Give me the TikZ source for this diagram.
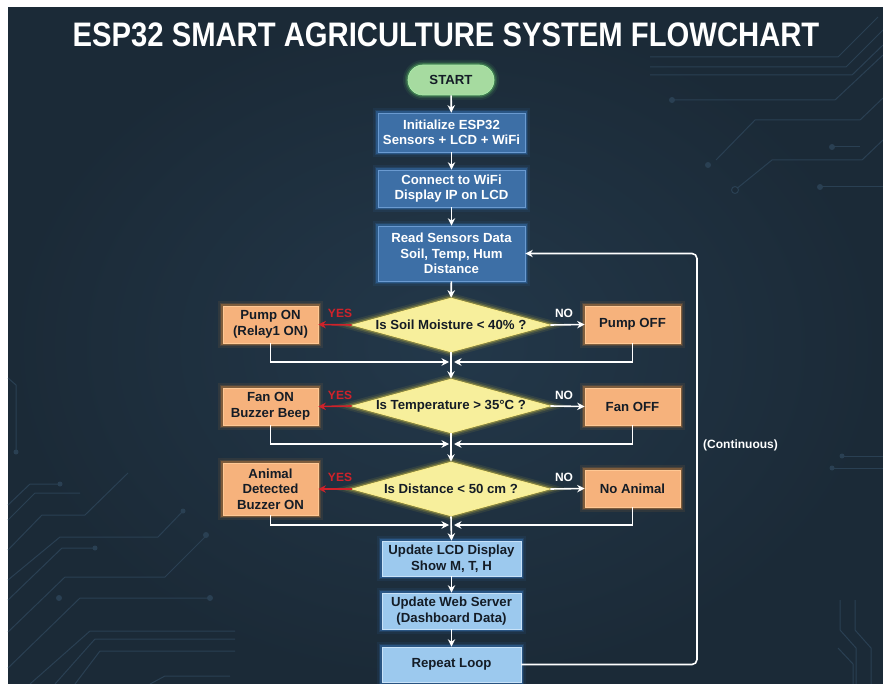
\documentclass[tikz,border=0pt]{standalone}
\usepackage{fontspec}
\setmainfont{Liberation Sans}
\usetikzlibrary{shapes.geometric,arrows.meta,calc}

\definecolor{bg}{HTML}{1B2A37}
\definecolor{bglight}{HTML}{23384A}
\definecolor{decoline}{HTML}{2A4053}
\definecolor{boxblue}{HTML}{3D6FA6}
\definecolor{boxblueedge}{HTML}{6A9AD0}
\definecolor{glowblue}{HTML}{3F8FE8}
\definecolor{lightblue}{HTML}{9CC9EE}
\definecolor{lightblueedge}{HTML}{C8E2F8}
\definecolor{orangebox}{HTML}{F6B27C}
\definecolor{orangeedge}{HTML}{FFC894}
\definecolor{glowor}{HTML}{FF9A3A}
\definecolor{yellowbox}{HTML}{F7EF9C}
\definecolor{glowyel}{HTML}{FFE640}
\definecolor{startgreen}{HTML}{A6DBA0}
\definecolor{glowgreen}{HTML}{6EE06E}
\definecolor{darktext}{HTML}{141C26}
\definecolor{yesred}{HTML}{D0222A}

\newcommand{\boxfont}{\fontsize{13.2}{15.5}\selectfont\bfseries}

\tikzset{
  glow/.style={
    preaction={draw=#1,line width=10pt,opacity=0.08},
    preaction={draw=#1,line width=6.5pt,opacity=0.14},
    preaction={draw=#1,line width=3.5pt,opacity=0.28}},
  base/.style={align=center, font=\boxfont, inner sep=0pt},
  bluebox/.style={base, rectangle, fill=boxblue, draw=boxblueedge, line width=0.7pt,
    text=white, glow=glowblue, minimum width=147pt},
  lbluebox/.style={base, rectangle, fill=lightblue, draw=lightblueedge, line width=0.7pt,
    text=darktext, glow=glowblue, minimum width=139pt},
  orbox/.style={base, rectangle, fill=orangebox, draw=orangeedge, line width=0.7pt,
    text=darktext, glow=glowor, minimum width=95pt},
  decision/.style={base, diamond, aspect=3.67, fill=yellowbox, draw=glowyel!60!white,
    line width=0.7pt, text=darktext, glow=glowyel, minimum width=198pt, minimum height=54pt},
  startbox/.style={base, rectangle, rounded corners=15pt, fill=startgreen, draw=glowgreen!60!white,
    line width=0.7pt, text=darktext, glow=glowgreen, minimum width=86pt, minimum height=30pt},
  flow/.style={draw=white, line width=1.6pt, -{Stealth[length=7.5pt,width=7.5pt]}},
  yesflow/.style={flow, draw=yesred},
  lbl/.style={font=\fontsize{12}{14}\selectfont\bfseries, inner sep=0pt},
  deco/.style={draw=decoline, line width=1pt},
  decodot/.style={fill=decoline},
}

\begin{document}
\begin{tikzpicture}[x=1pt,y=-1pt]
\useasboundingbox (0,0) rectangle (883,684);
\fill[white] (0,0) rectangle (883,684);
\shade[inner color=bglight, outer color=bg] (8,8) rectangle (883,684);

% decorative circuit traces
\draw[deco] (8,378) -- (16,385) -- (16,452);
\fill[decodot] (16,452) circle (2.5pt);
\draw[deco] (8,505) -- (30,484) -- (60,484);
\fill[decodot] (60,484) circle (2.5pt);
\draw[deco] (8,520) -- (35,493) -- (80,493);
\draw[deco] (8,550) -- (42,515) -- (85,515) -- (128,473);
\draw[deco] (8,580) -- (60,537) -- (158,537) -- (183,511);
\fill[decodot] (183,511) circle (2.5pt);
\draw[deco] (8,600) -- (62,548) -- (95,548);
\fill[decodot] (95,548) circle (2.5pt);
\draw[deco] (8,632) -- (65,577) -- (165,577) -- (205,537);
\fill[decodot] (206,535) circle (3pt);
\fill[decodot] (59,598) circle (3pt);
\draw[deco] (8,668) -- (80,598) -- (210,598);
\fill[decodot] (210,598) circle (3pt);
\draw[deco] (30,684) -- (90,631) -- (235,631);
\draw[deco] (55,684) -- (95,639) -- (235,639);
\draw[deco] (75,684) -- (100,651) -- (235,651);
\draw[deco] (150,684) -- (165,676) -- (230,676);
\draw[deco] (650,57) -- (838,57) -- (878,17);
\draw[deco] (650,67) -- (846,67) -- (883,30);
\draw[deco] (650,75) -- (852,75) -- (883,45);
\draw[deco] (672,100) -- (835,100) -- (883,55);
\fill[decodot] (672,100) circle (3pt);
\draw[deco] (716,160) -- (755,120) -- (860,120) -- (883,98);
\fill[decodot] (708,165) circle (3pt);
\draw[deco] (735,190) -- (772,160) -- (862,160) -- (883,140);
\draw[deco,fill=bg] (735,190) circle (3.5pt);
\draw[deco] (832,147) -- (860,147);
\fill[decodot] (832,147) circle (3pt);
\draw[deco] (820,187) -- (883,187);
\fill[decodot] (820,187) circle (3pt);
\draw[deco] (842,456) -- (883,456);
\fill[decodot] (842,456) circle (2.5pt);
\draw[deco] (832,468) -- (883,468);
\fill[decodot] (832,468) circle (2.5pt);
\draw[deco] (840,600) -- (840,630) -- (856,648) -- (856,684);
\draw[deco] (855,600) -- (855,630) -- (871,648) -- (871,684);
\draw[deco] (838,648) -- (853,664) -- (853,684);

% title
\node[text=white, font=\fontsize{34}{36}\selectfont\bfseries, inner sep=0pt] (title) at (446,35)
  {\scalebox{0.86}[1]{ESP32 SMART AGRICULTURE SYSTEM FLOWCHART}};

% nodes
\node[startbox] (start) at (451,80) {START};
\node[bluebox, minimum height=39pt] (init) at (451.5,132.5) {Initialize ESP32\\Sensors + LCD + WiFi};
\node[bluebox, minimum height=37pt] (conn) at (451.5,188.5) {Connect to WiFi\\Display IP on LCD};
\node[bluebox, minimum height=55pt] (read) at (451.5,253.5) {Read Sensors Data\\Soil, Temp, Hum\\Distance};

\node[decision] (d1) at (451,325) {Is Soil Moisture < 40\% ?};
\node[orbox, minimum height=37pt] (pumpon) at (270.5,324.5) {Pump ON\\(Relay1 ON)};
\node[orbox, minimum height=37pt] (pumpoff) at (632.5,324.5) {Pump OFF};

\node[decision] (d2) at (451,406) {Is Temperature > 35°C ?};
\node[orbox, minimum height=37pt] (fanon) at (270.5,406.5) {Fan ON\\Buzzer Beep};
\node[orbox, minimum height=37pt] (fanoff) at (632.5,406.5) {Fan OFF};

\node[decision] (d3) at (451,489) {Is Distance < 50 cm ?};
\node[orbox, minimum height=52pt] (animal) at (270.5,489) {Animal\\Detected\\Buzzer ON};
\node[orbox, minimum height=37pt] (noanimal) at (632.5,488.5) {No Animal};

\node[lbluebox, minimum height=35pt] (lcd) at (451.5,558.5) {Update LCD Display\\Show M, T, H};
\node[lbluebox, minimum height=36pt] (web) at (451.5,611) {Update Web Server\\(Dashboard Data)};
\node[lbluebox, minimum height=35pt] (rep) at (451.5,664.5) {Repeat Loop};

% labels
\node[lbl, text=yesred] (yes1) at (340,313) {YES};
\node[lbl, text=white] (no1) at (564,313) {NO};
\node[lbl, text=yesred] (yes2) at (340,395) {YES};
\node[lbl, text=white] (no2) at (564,395) {NO};
\node[lbl, text=yesred] (yes3) at (340,477) {YES};
\node[lbl, text=white] (no3) at (564,477) {NO};
\node[font=\fontsize{12}{14}\selectfont\bfseries, text=white, anchor=west, inner sep=0pt] (cont) at (703,445) {(Continuous)};

% merge points
\coordinate (m1) at (451.5,362);
\coordinate (m2) at (451.5,444);
\coordinate (m3) at (451.5,525);
\coordinate (lc) at (697,450);

% connectors
\draw[flow] (start) -- (init);
\draw[flow] (init) -- (conn);
\draw[flow] (conn) -- (read);
\draw[flow] (read) -- (d1);

\draw[yesflow] (d1.west) -- (pumpon.east);
\draw[flow] (d1.east) -- (pumpoff.west);
\draw[flow] (pumpon.south) |- ([xshift=-2.5pt]m1);
\draw[flow] (pumpoff.south) |- ([xshift=2.5pt]m1);
\draw[flow] (d1.south) -- (d2.north);

\draw[yesflow] (d2.west) -- (fanon.east);
\draw[flow] (d2.east) -- (fanoff.west);
\draw[flow] (fanon.south) |- ([xshift=-2.5pt]m2);
\draw[flow] (fanoff.south) |- ([xshift=2.5pt]m2);
\draw[flow] (d2.south) -- (d3.north);

\draw[yesflow] (d3.west) -- (animal.east);
\draw[flow] (d3.east) -- (noanimal.west);
\draw[flow] (animal.south) |- ([xshift=-2.5pt]m3);
\draw[flow] (noanimal.south) |- ([xshift=2.5pt]m3);
\draw[flow] (d3.south) -- (lcd.north);

\draw[flow] (lcd) -- (web);
\draw[flow] (web) -- (rep);

\draw[flow, rounded corners=5pt] (rep.east) -| (lc) |- (read.east);
\end{tikzpicture}
\end{document}
